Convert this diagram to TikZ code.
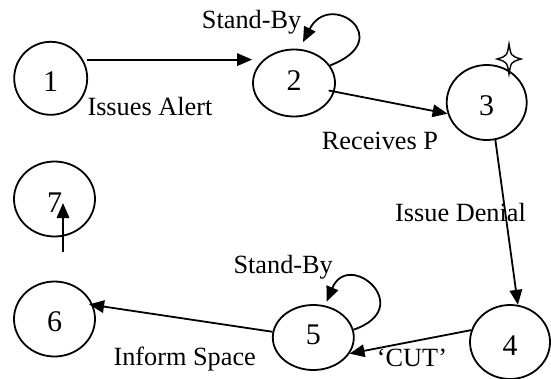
\documentclass[tikz,border=0pt]{standalone}
\usepackage{fontspec}
\setmainfont{Liberation Serif}
\usetikzlibrary{arrows.meta,shapes.geometric,calc}
\begin{document}
\begin{tikzpicture}[x=1pt,y=-1pt,
  state/.style={ellipse, draw, line width=1.8pt, inner sep=0pt, text height=26pt,
                font=\fontsize{30}{34}\selectfont},
  lbl/.style={anchor=base west, inner sep=0pt, font=\fontsize{26.3}{30}\selectfont},
  link/.style={line width=1.8pt, -{Triangle[length=15pt,width=12.5pt]}},
  ]
\useasboundingbox (0,0) rectangle (551,378);

% states
\node[state, minimum width=73pt, minimum height=73pt] (n1) at (50.7,78.3) {1};
\node[state, minimum width=82pt, minimum height=67pt, text height=15pt] (n2) at (294,83) {2};
\node[state, minimum width=80pt, minimum height=75pt] (n3) at (486.7,102.5) {3};
\node[state, minimum width=80pt, minimum height=74pt] (n4) at (510,342) {4};
\node[state, minimum width=81pt, minimum height=65pt, text height=15pt] (n5) at (313.3,337.5) {5};
\node[state, minimum width=81pt, minimum height=75pt] (n6) at (54.5,319) {6};
\node[state, minimum width=81pt, minimum height=75pt] (n7) at (54.5,199) {7};

% star on state 3
\draw[line width=1.4pt] (509,44) .. controls (511,56) .. (521,59)
  .. controls (511,62) .. (509,74) .. controls (507,62) .. (497,59)
  .. controls (507,56) .. cycle;

% transitions
\draw[link, shorten <=3.5pt] (n1.30) -- (n2.west |- n1.30);
\draw[link, shorten <=-6pt] (n2.-12) -- (n3.196);
\draw[link] (n3.-77) -- (n4.78);
\draw[link] (n4.163) -- (n5.-24);
\draw[link, shorten >=-4pt] (n5.172) -- (n6.20);
\coordinate (s7) at (63,252);
\coordinate (e7) at (63,203);
\draw[link] (s7) -- (e7);

% self loops
\draw[link] (n2.26) .. controls +(68,-26) and +(27,-53) .. ($(n2.north)+(9,-6.5)$);
\draw[link] (n5.11) .. controls +(64,-22) and +(22,-53) .. ($(n5.north)+(13.4,-2.5)$);

% labels
\node[lbl] (tIA) at (87.3,115.5) {Issues Alert};
\node[lbl] (tSB1) at (201.7,28) {Stand-By};
\node[lbl] (tRP) at (321.7,149.5) {Receives P};
\node[lbl] (tID) at (395,221) {Issue Denial};
\node[lbl] (tSB2) at (233.3,273) {Stand-By};
\node[lbl] (tIS) at (113.3,365) {Inform Space};
\node[lbl] (tCUT) at (376.7,366) {‘CUT’};
\end{tikzpicture}
\end{document}
